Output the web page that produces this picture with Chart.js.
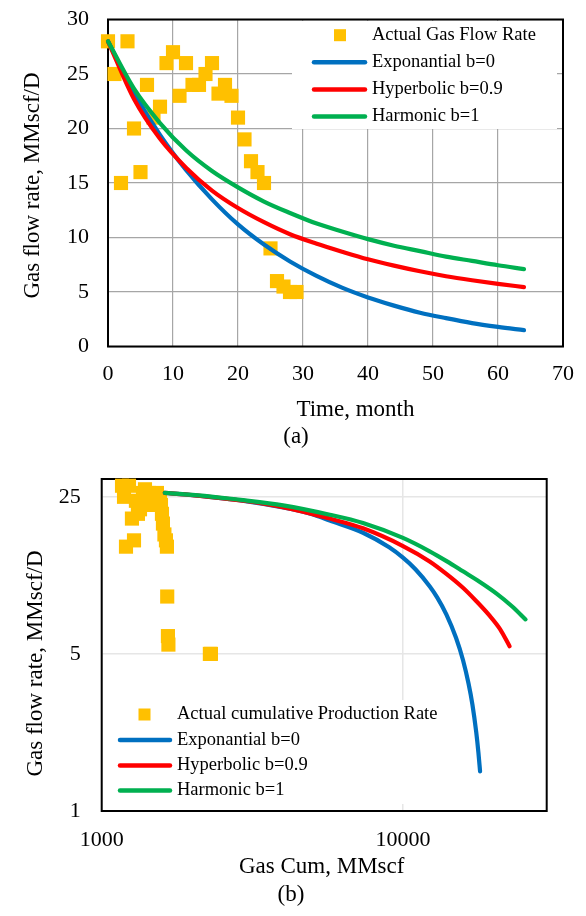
<!DOCTYPE html>
<html>
<head>
<meta charset="utf-8">
<script src="https://cdn.jsdelivr.net/npm/chart.js@4.4.1/dist/chart.umd.min.js"></script>
<style>
  html, body { margin: 0; padding: 0; background: #fff; }
  body { width: 586px; height: 916px; position: relative; overflow: hidden;
         font-family: "Liberation Serif", "Times New Roman", serif; color: #000; }
  canvas { position: absolute; left: 0; }
  #chartA { top: 0; }
  #chartB { top: 460px; }
  .lbl { position: absolute; width: 240px; font-size: 23px; line-height: 23px;
         text-align: center; white-space: nowrap; }
  .ytitle { position: absolute; width: 300px; height: 23px; font-size: 23px; line-height: 23px;
            text-align: center; white-space: nowrap; transform: rotate(-90deg); }
</style>
</head>
<body>
<canvas id="chartA" width="586" height="425"></canvas>
<canvas id="chartB" width="586" height="420"></canvas>
<div class="ytitle" style="left:-119px; top:173.5px;">Gas flow rate, MMscf/D</div>
<div class="lbl" style="left:235.5px; top:396.5px;">Time, month</div>
<div class="lbl" style="left:176px; top:424px;">(a)</div>
<div class="ytitle" style="left:-116px; top:652px;">Gas flow rate, MMscf/D</div>
<div class="lbl" style="left:201.7px; top:854px;">Gas Cum, MMscf</div>
<div class="lbl" style="left:171px; top:882px;">(b)</div>
<script>
// -------------------------------
// DATA (a): rate vs time
// -------------------------------
const months = [0, 1, 2, 3, 4, 5, 6, 7, 8, 9, 10, 11, 12, 13, 14, 15, 16, 17, 18, 19, 20, 21, 22, 23, 24, 25, 26, 27, 28, 29];
const actualRate = [28, 25, 15, 28, 20, 16, 24, 21, 22, 26, 27, 23, 26, 24, 24, 25, 26, 23.2, 24, 23, 21, 19, 17, 16, 15, 9, 6, 5.5, 5, 5];

const fitMonths = [0, 4, 8, 12, 16, 20, 24, 28, 32, 36, 40, 44, 48, 52, 56, 60, 64];
const expRate  = [28, 23.3, 19.4, 16.2, 13.5, 11.2, 9.35, 7.8, 6.5, 5.4, 4.5, 3.75, 3.1, 2.6, 2.15, 1.8, 1.5];
const hypRate  = [28, 22.7, 19.05, 16.4, 14.3, 12.7, 11.4, 10.3, 9.45, 8.7, 8.0, 7.42, 6.9, 6.45, 6.08, 5.75, 5.45];
const harmRate = [28, 23.65, 20.5, 18.0, 16.1, 14.6, 13.3, 12.25, 11.3, 10.55, 9.85, 9.25, 8.75, 8.25, 7.85, 7.45, 7.1];

const xTicksA = [0, 10, 20, 30, 40, 50, 60, 70];
const yTicksA = [0, 5, 10, 15, 20, 25, 30];

// -------------------------------
// DATA (b): rate vs cumulative
// -------------------------------
const cumActual = [1168, 1186, 1204, 1232, 1260, 1280, 1299, 1319, 1340, 1371, 1392, 1413, 1435, 1457, 1480, 1502, 1525, 1543, 1561, 1573, 1585, 1597, 1615, 1634, 1646, 1650, 1659, 1665, 2286, 2304];
const cumRate = actualRate;

const cumExp  = [1620, 2000, 3000, 4000, 5000, 5715, 7369, 9000, 10000, 11000, 12260, 13000, 13930, 15000, 15820, 16500, 17000, 17500, 17800, 18030];
const expCumRate = [26.0, 25.4, 23.9, 22.4, 20.9, 19.6, 17.3, 14.9, 13.4, 11.9, 10.0, 8.9, 7.5, 5.9, 4.7, 3.7, 2.98, 2.25, 1.82, 1.5];

const cumHyp  = [1620, 2000, 3000, 4000, 5715, 7369, 10000, 12260, 14000, 15820, 17500, 19390, 21000, 22590];
const hypCumRate = [26.0, 25.45, 23.95, 22.5, 20.0, 18.1, 15.1, 12.9, 11.3, 9.85, 8.6, 7.4, 6.45, 5.41];

const cumHarm = [1620, 2000, 3000, 4000, 5715, 7369, 10000, 12260, 14000, 15820, 18000, 20400, 23000, 25520];
const harmCumRate = [26.0, 25.5, 24.1, 22.9, 20.8, 19.1, 16.4, 14.3, 12.9, 11.65, 10.45, 9.3, 8.15, 7.12];

const xTicksB = [1000, 10000];
const yTicksB = [1, 5, 25];

const YELLOW = "#FFC000", BLUE = "#0070C0", RED = "#FF0000", GREEN = "#00B050";
const SERIF = '"Liberation Serif", "Times New Roman", serif';

Chart.defaults.font.family = SERIF;
Chart.defaults.color = "#000";

// -------------------------------
// HELPERS
// -------------------------------
function pts(xs, ys) {
    return xs.map((x, i) => ({ x: x, y: ys[i] }));
}

function markers(label, xs, ys) {
    return {
        label: label, data: pts(xs, ys),
        pointStyle: "rect", pointRadius: 10, pointHoverRadius: 10,
        pointBackgroundColor: YELLOW, pointBorderColor: YELLOW, pointBorderWidth: 0,
        showLine: false, order: 4, clip: false
    };
}

function curve(label, xs, ys, color, order) {
    return {
        label: label, data: pts(xs, ys), showLine: true,
        borderColor: color, backgroundColor: color, borderWidth: 4.2,
        borderCapStyle: "round", borderJoinStyle: "round",
        pointRadius: 0, pointHoverRadius: 0,
        cubicInterpolationMode: "monotone", fill: false, order: order, clip: false
    };
}

function fixedTicks(values) {
    return s => { s.ticks = values.map(v => ({ value: v })); };
}

// force the axis box size and drop the extra label padding chart.js adds
function fitTo(prop, size) {
    return s => {
        s[prop] = size;
        s.paddingTop = s.paddingBottom = s.paddingLeft = s.paddingRight = 0;
    };
}

// black box round the plot area, under the marks
const framePlugin = {
    id: "frame",
    beforeDatasetsDraw(chart) {
        const { ctx, chartArea: a } = chart;
        ctx.save();
        ctx.strokeStyle = "#000";
        ctx.lineWidth = 2;
        ctx.strokeRect(a.left, a.top, a.right - a.left, a.bottom - a.top);
        ctx.restore();
    }
};

// legend drawn inside the plot, like the excel one
function legendPlugin(id, cfg) {
    return {
        id: id,
        afterDraw(chart) {
            const ctx = chart.ctx;
            ctx.save();
            ctx.fillStyle = "#fff";
            ctx.fillRect(cfg.box[0], cfg.box[1], cfg.box[2], cfg.box[3]);
            ctx.font = "18.5px " + SERIF;
            ctx.textBaseline = "middle";
            ctx.textAlign = "left";
            chart.data.datasets.forEach((ds, i) => {
                const y = cfg.rows[i];
                if (ds.showLine) {
                    ctx.strokeStyle = ds.borderColor;
                    ctx.lineWidth = 4.5;
                    ctx.lineCap = "round";
                    ctx.beginPath();
                    ctx.moveTo(cfg.line[0], y);
                    ctx.lineTo(cfg.line[1], y);
                    ctx.stroke();
                } else {
                    ctx.fillStyle = YELLOW;
                    ctx.fillRect(cfg.mark - 6, y - 6, 12, 12);
                }
                ctx.fillStyle = "#000";
                ctx.fillText(ds.label, cfg.textX, y);
            });
            ctx.restore();
        }
    };
}

// -------------------------------
// CHART (a)
// -------------------------------
new Chart(document.getElementById("chartA"), {
    type: "scatter",
    data: {
        datasets: [
            markers("Actual Gas Flow Rate", months, actualRate),
            curve("Exponantial b=0", fitMonths, expRate, BLUE, 3),
            curve("Hyperbolic b=0.9", fitMonths, hypRate, RED, 2),
            curve("Harmonic b=1", fitMonths, harmRate, GREEN, 1)
        ]
    },
    options: {
        responsive: false, animation: false, devicePixelRatio: 1, events: [],
        layout: { padding: { left: 0, top: 19.5, right: 23, bottom: 0 } },
        plugins: { legend: { display: false }, tooltip: { enabled: false } },
        scales: {
            x: {
                type: "linear", min: 0, max: 70,
                afterBuildTicks: fixedTicks(xTicksA),
                ticks: { padding: 15, font: { size: 22 }, color: "#000", maxRotation: 0 },
                grid: { color: "#a6a6a6", lineWidth: 1.2, drawTicks: false },
                border: { display: false },
                afterFit: fitTo("height", 78.5)
            },
            y: {
                type: "linear", min: 0, max: 30,
                afterBuildTicks: fixedTicks(yTicksA),
                ticks: { padding: 19, font: { size: 22 }, color: "#000" },
                grid: { color: "#a6a6a6", lineWidth: 1.2, drawTicks: false },
                border: { display: false },
                afterFit: fitTo("width", 108)
            }
        }
    },
    plugins: [framePlugin, legendPlugin("legendA", {
        box: [292, 21, 265, 108], rows: [35.2, 62.2, 89.4, 116.6],
        line: [314, 365], mark: 340, textX: 372
    })]
});

// -------------------------------
// CHART (b)
// -------------------------------
new Chart(document.getElementById("chartB"), {
    type: "scatter",
    data: {
        datasets: [
            markers("Actual cumulative Production Rate", cumActual, cumRate),
            curve("Exponantial b=0", cumExp, expCumRate, BLUE, 3),
            curve("Hyperbolic b=0.9", cumHyp, hypCumRate, RED, 2),
            curve("Harmonic b=1", cumHarm, harmCumRate, GREEN, 1)
        ]
    },
    options: {
        responsive: false, animation: false, devicePixelRatio: 1, events: [],
        layout: { padding: { left: 0, top: 19, right: 39.3, bottom: 0 } },
        plugins: { legend: { display: false }, tooltip: { enabled: false } },
        scales: {
            x: {
                type: "logarithmic", min: 1000, max: 30000,
                afterBuildTicks: fixedTicks(xTicksB),
                ticks: { padding: 16, font: { size: 22 }, color: "#000", maxRotation: 0, callback: v => String(v) },
                grid: { color: "#e6e6e6", lineWidth: 1.5, drawTicks: false },
                border: { display: false },
                afterFit: fitTo("height", 69)
            },
            y: {
                type: "logarithmic", min: 1, max: 30,
                afterBuildTicks: fixedTicks(yTicksB),
                ticks: { padding: 21, font: { size: 22 }, color: "#000", callback: v => String(v) },
                grid: { color: "#e6e6e6", lineWidth: 1.5, drawTicks: false },
                border: { display: false },
                afterFit: fitTo("width", 101.7)
            }
        }
    },
    plugins: [framePlugin, legendPlugin("legendB", {
        box: [106, 240, 340, 104], rows: [254.5, 280, 305.5, 330.5],
        line: [120, 170], mark: 144.5, textX: 177
    })]
});
</script>
</body>
</html>
